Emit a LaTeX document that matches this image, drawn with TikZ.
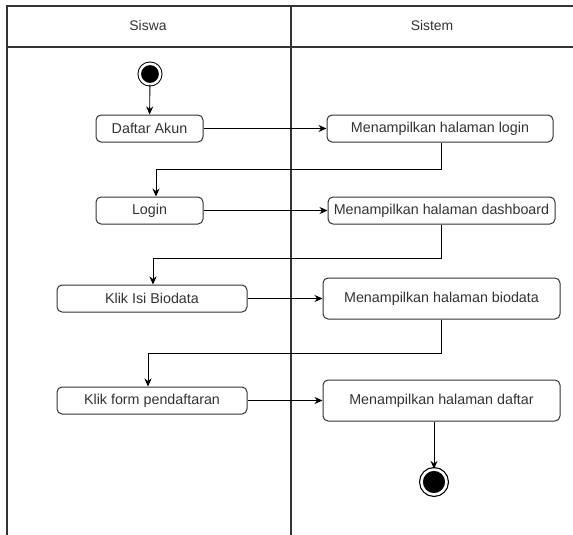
\documentclass[tikz,border=0pt]{standalone}
\usepackage{fontspec}
\setmainfont{Liberation Sans}
\usetikzlibrary{shapes,arrows.meta}
\definecolor{lanegray}{HTML}{333333}

\begin{document}
\begin{tikzpicture}[x=1pt,y=-1pt,>={Stealth[length=8pt,width=7pt]}]
        % swimlanes Siswa / Sistem
        \tikzstyle{lane} = [draw=lanegray,line width=1.2pt];
        \tikzstyle{block} = [draw=lanegray,rectangle,rounded corners=5pt,line width=1pt,text=lanegray,font=\fontsize{14.3}{17}\selectfont,minimum height=27pt,inner sep=0pt];
        \tikzstyle{flow} = [draw=black,line width=0.9pt];

        \useasboundingbox (0,0) rectangle (573,535);
        \draw[lane] (573,6) -- (7,6) -- (7,535);
        \draw[lane] (7,47) -- (573,47);
        \draw[lane] (291,6) -- (291,535);

        \node[text=lanegray,font=\fontsize{13.9}{17}\selectfont] (siswa) at (148,26) {Siswa};
        \node[text=lanegray,font=\fontsize{13.9}{17}\selectfont] (sistem) at (432,26) {Sistem};

        \node[circle,fill=black,draw=black,line width=1pt,double=white,double distance=2.5pt,minimum size=20.5pt,inner sep=0pt] (start) at (150,74) {};
        \node[block,minimum width=107pt] (akun) at (149.5,128.5) {Daftar Akun};
        \node[block,minimum width=226pt] (hal_login) at (440,128.5) {Menampilkan halaman login};
        \node[block,minimum width=107pt] (login) at (149.5,210.5) {Login};
        \node[block,minimum width=227pt] (hal_dashboard) at (441.5,210.5) {Menampilkan halaman dashboard};
        \node[block,minimum width=190pt] (biodata) at (152,298.5) {Klik Isi Biodata};
        \node[block,minimum width=237pt,minimum height=41pt] (hal_biodata) at (441.5,298.5) {Menampilkan halaman biodata};
        \node[block,minimum width=190pt] (form) at (152,400.5) {Klik form pendaftaran};
        \node[block,minimum width=237pt,minimum height=41pt] (hal_daftar) at (441.5,400.5) {Menampilkan halaman daftar};
        \node[circle,fill=black,draw=black,line width=1.2pt,double=white,double distance=2.6pt,minimum size=25pt,inner sep=0pt] (stop) at (434,482) {};

        \draw[flow,->] (start) -- (akun);
        \draw[flow,->] (akun) -- (hal_login);
        \draw[flow,->] ([xshift=1pt]hal_login.south) -- ++(0,27) -| ([xshift=6.5pt]login.north);
        \draw[flow,->] (login) -- (hal_dashboard);
        \draw[flow,->] (hal_dashboard.south) -- ++(0,34) -| ([xshift=1pt]biodata.north);
        \draw[flow,->] (biodata) -- (hal_biodata);
        \draw[flow,->] (hal_biodata.south) -- ++(0,34) -| ([xshift=-4pt]form.north);
        \draw[flow,->] (form) -- (hal_daftar);
        \draw[flow,->] ([xshift=-7.5pt]hal_daftar.south) -- (stop);

    \end{tikzpicture}
\end{document}
